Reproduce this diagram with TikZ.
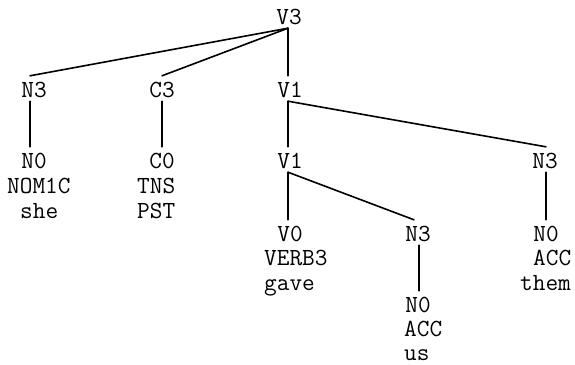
\documentclass[tikz,border=0pt]{standalone}
\newcommand\treefont{\ttfamily\fontsize{24.6}{24.7}\selectfont}
\begin{document}
\begin{tikzpicture}[x=1pt,y=-1pt,
  lab/.style={font=\treefont, inner sep=0pt, text height=21pt, text depth=4pt, anchor=base},
  words/.style={font=\treefont, inner sep=0pt, anchor=base west},
  edge/.style={line width=1.6pt, line cap=round}]
\useasboundingbox (0,0) rectangle (575,364);
% category labels
\node[lab] (v3)  at (289,24)  {V3};
\node[lab] (n3a) at (34,97)   {N3};
\node[lab] (c3)  at (162,97)  {C3};
\node[lab] (v1a) at (290,97)  {V1};
\node[lab] (n0a) at (34,168)  {N0};
\node[lab] (c0)  at (162,168) {C0};
\node[lab] (v1b) at (290,168) {V1};
\node[lab] (n3b) at (545,168) {N3};
\node[lab] (v0)  at (290,241) {V0};
\node[lab] (n3c) at (418,241) {N3};
\node[lab] (n0b) at (546,241) {N0};
\node[lab] (n0c) at (418,312) {N0};
% word lines
\node[words] (w1a) at (7,193)   {NOM1C};
\node[words] (w1b) at (20,218)  {she};
\node[words] (w2a) at (137,193) {TNS};
\node[words] (w2b) at (137,218) {PST};
\node[words] (w3a) at (264,265) {VERB3};
\node[words] (w3b) at (264,290) {gave};
\node[words] (w4a) at (533,265) {ACC};
\node[words] (w4b) at (520,290) {them};
\node[words] (w5a) at (404,336) {ACC};
\node[words] (w5b) at (404,360) {us};
% connectors
\draw[edge] ([xshift=-1pt]v3.south) -- ([xshift=-4pt]n3a.north);
\draw[edge] ([xshift=-1pt]v3.south) -- (c3.north);
\draw[edge] ([xshift=-1pt]v3.south) -- ([xshift=-2pt]v1a.north);
\draw[edge] ([xshift=-4pt]n3a.south) -- ([xshift=-4pt]n0a.north);
\draw[edge] (c3.south) -- (c0.north);
\draw[edge] ([xshift=-2pt]v1a.south) -- ([xshift=-2pt]v1b.north);
\draw[edge] ([xshift=-2pt]v1a.south) -- ([xshift=1pt]n3b.north);
\draw[edge] ([xshift=-2pt]v1b.south) -- ([xshift=-2pt]v0.north);
\draw[edge] ([xshift=-2pt]v1b.south) -- ([xshift=-4pt]n3c.north);
\draw[edge] ([xshift=1pt]n3b.south) -- (n0b.north);
\draw[edge] ([xshift=1pt]n3c.south) -- ([xshift=1pt]n0c.north);
\end{tikzpicture}
\end{document}
